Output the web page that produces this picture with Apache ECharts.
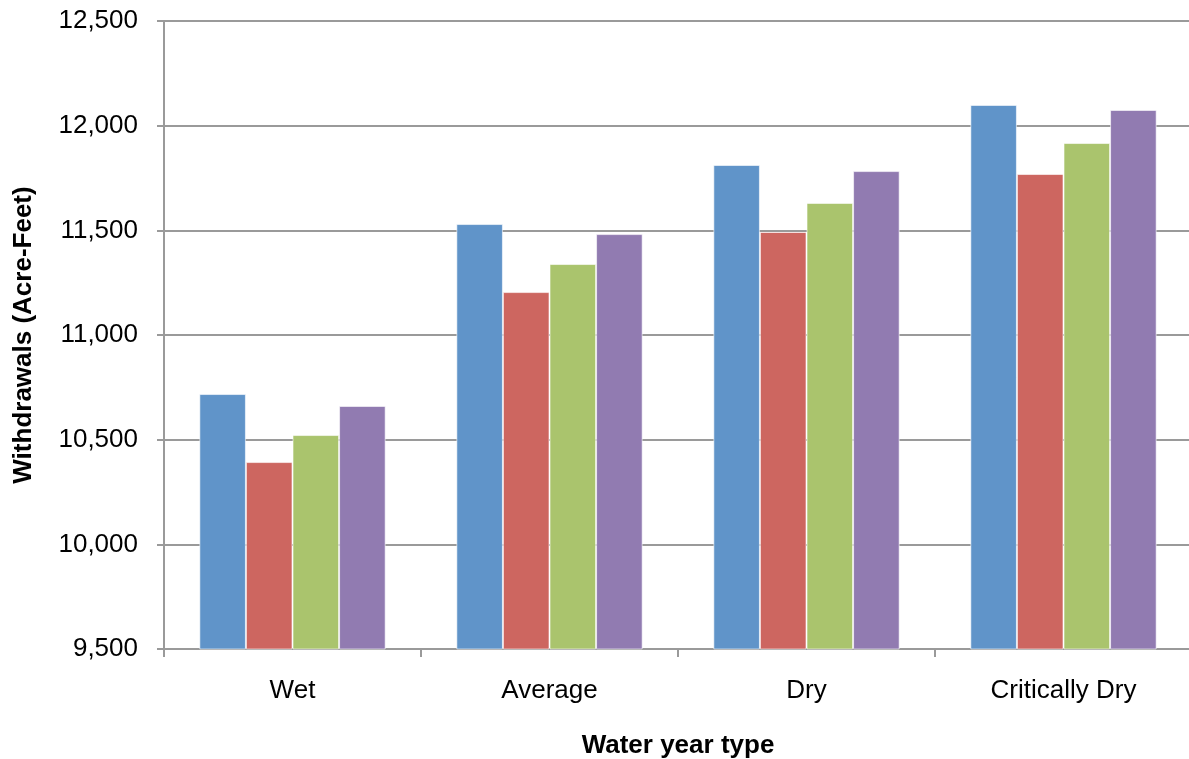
<!DOCTYPE html>
<html>
<head>
<meta charset="utf-8">
<script src="https://cdn.jsdelivr.net/npm/echarts@6/dist/echarts.min.js"></script>
<style>
  html, body { margin: 0; padding: 0; background: #fff; overflow: hidden; }
  #chart { width: 1189px; height: 759px; }
</style>
</head>
<body>
<div id="chart"></div>
<script>
// Water year types along the horizontal axis
const categories = ['Wet', 'Average', 'Dry', 'Critically Dry'];

// Withdrawals (acre-feet) for each of the four series
const series1 = [10718, 11530, 11812, 12099];
const series2 = [10393, 11205, 11492, 11769];
const series3 = [10522, 11339, 11631, 11917];
const series4 = [10661, 11482, 11783, 12075];

const seriesNames = ['Series 1', 'Series 2', 'Series 3', 'Series 4'];
const seriesColors = ['#6094C9', '#CD6660', '#AAC46D', '#917BB1'];

// Value axis range
const yMin = 9500;
const yMax = 12500;
const yStep = 500;

const FONT = '"Liberation Sans", Arial, sans-serif';
const GRID_GRAY = '#9a9a9a';

const chart = echarts.init(document.getElementById('chart'), null, { renderer: 'canvas' });

const dataSets = [series1, series2, series3, series4];

chart.setOption({
  animation: false,
  backgroundColor: '#ffffff',
  textStyle: { fontFamily: FONT },
  // fixed plot rectangle; the right edge runs slightly past the canvas
  grid: { left: 164, right: -3, top: 21, bottom: 110, containLabel: false, outerBoundsMode: 'none' },
  xAxis: {
    type: 'category',
    data: categories,
    boundaryGap: true,
    name: 'Water year type',
    nameLocation: 'middle',
    nameGap: 84,
    nameTextStyle: { fontFamily: FONT, fontSize: 26, fontWeight: 'bold', color: '#000' },
    axisLine: { lineStyle: { color: GRID_GRAY, width: 2 } },
    axisTick: { show: true, length: 8, lineStyle: { color: GRID_GRAY, width: 2 } },
    axisLabel: { fontFamily: FONT, fontSize: 26, color: '#000', margin: 29 },
    splitLine: { show: false }
  },
  yAxis: {
    type: 'value',
    min: yMin,
    max: yMax,
    interval: yStep,
    name: 'Withdrawals (Acre-Feet)',
    nameLocation: 'middle',
    nameGap: 127,
    nameTextStyle: { fontFamily: FONT, fontSize: 26, fontWeight: 'bold', color: '#000' },
    axisLine: { show: true, lineStyle: { color: GRID_GRAY, width: 2 } },
    axisTick: { show: true, length: 7, lineStyle: { color: GRID_GRAY, width: 2 } },
    axisLabel: {
      fontFamily: FONT, fontSize: 26, color: '#000', margin: 26,
      formatter: v => v.toLocaleString('en-US')
    },
    splitLine: { show: true, lineStyle: { color: GRID_GRAY, width: 2 } }
  },
  series: dataSets.map((d, i) => ({
    name: seriesNames[i],
    type: 'bar',
    data: d,
    barGap: '0%',
    barCategoryGap: '27.5%',
    itemStyle: { color: seriesColors[i], borderColor: 'rgba(255,255,255,0.6)', borderWidth: 1 }
  }))
});
</script>
</body>
</html>
